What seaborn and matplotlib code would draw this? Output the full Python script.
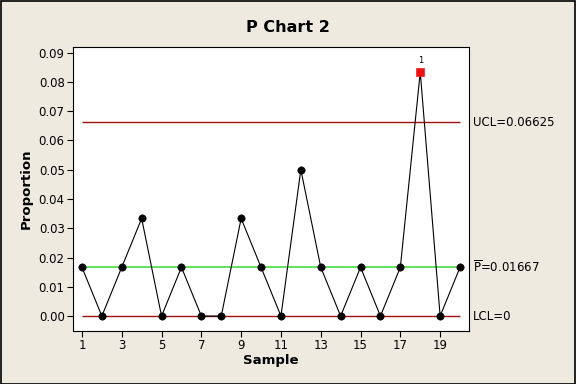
import matplotlib
matplotlib.use("Agg")
import matplotlib.pyplot as plt
import seaborn as sns
import pandas as pd
from matplotlib.patches import Rectangle

samples = list(range(1, 21))
proportion = [0.01667, 0.0, 0.01667, 0.03333, 0.0, 0.01667, 0.0, 0.0, 0.03333, 0.01667,
              0.0, 0.05, 0.01667, 0.0, 0.01667, 0.0, 0.01667, 0.08333, 0.0, 0.01667]
out_of_control = [18]
ucl = 0.06625
center = 0.01667
lcl = 0.0
xticks = [1, 3, 5, 7, 9, 11, 13, 15, 17, 19]
yticks = [0.00, 0.01, 0.02, 0.03, 0.04, 0.05, 0.06, 0.07, 0.08, 0.09]

df = pd.DataFrame({"Sample": samples, "Proportion": proportion})
df["flag"] = df["Sample"].isin(out_of_control)

sns.set_style("white")
plt.rcParams['font.family'] = ['DejaVu Sans']
plt.rcParams['text.color'] = 'black'
plt.rcParams['axes.labelcolor'] = 'black'
plt.rcParams['mathtext.fontset'] = 'dejavusans'

bg = "#EEEAE0"
fig = plt.figure(figsize=(5.76, 3.84), dpi=100, facecolor=bg)
ax = fig.add_axes([73/576, 1-331/384, (469-73)/576, (331-47)/384])
ax.set_facecolor("white")

ax.hlines(ucl, 1, 20, color="#A01010", lw=1)
ax.hlines(lcl, 1, 20, color="#A01010", lw=1)
ax.hlines(center, 1, 20, color="#33DD33", lw=1.1)

sns.lineplot(data=df, x="Sample", y="Proportion", ax=ax, color="black", lw=0.8, zorder=3)
sns.scatterplot(data=df[~df["flag"]], x="Sample", y="Proportion", ax=ax, color="black",
                s=28, edgecolor="black", zorder=4, marker="o")
sns.scatterplot(data=df[df["flag"]], x="Sample", y="Proportion", ax=ax, color="#EE1111",
                s=32, edgecolor="#EE1111", zorder=4, marker="s")
for s in out_of_control:
    ax.text(s, proportion[s-1] + 0.0025, "1", ha="center", va="bottom", fontsize=6)

ax.set_xlim(0.55, 20.45)
ax.set_ylim(-0.0051, 0.0919)
ax.set_xticks(xticks)
ax.set_yticks(yticks)
ax.set_yticklabels([f"{v:.2f}" for v in yticks])
ax.tick_params(axis="both", direction="out", length=4, width=0.8, labelsize=8.5,
               left=True, bottom=True, pad=2, colors="black")
for sp in ax.spines.values():
    sp.set_color("black")
    sp.set_linewidth(0.8)

ax.set_xlabel("Sample", fontsize=9.5, fontweight="bold", labelpad=1)
ax.set_ylabel("Proportion", fontsize=9.5, fontweight="bold", labelpad=4)
fig.text(0.5, 1-28/384, "P Chart 2", ha="center", va="center", fontsize=11.5, fontweight="bold")

ax.text(1.01, ucl, f"UCL={ucl}", transform=ax.get_yaxis_transform(), va="center", ha="left", fontsize=8.5, clip_on=False)
ax.text(1.01, center, r"$\overline{\mathrm{P}}$" + f"={center}", transform=ax.get_yaxis_transform(), va="center", ha="left", fontsize=8.5, clip_on=False)
ax.text(1.01, lcl, "LCL=0", transform=ax.get_yaxis_transform(), va="center", ha="left", fontsize=8.5, clip_on=False)

fig.patches.append(Rectangle((0.001, 0.001), 0.997, 0.997, transform=fig.transFigure,
                             fill=False, edgecolor="black", lw=1.2))
fig.savefig("out.png", dpi=100, facecolor=bg)
